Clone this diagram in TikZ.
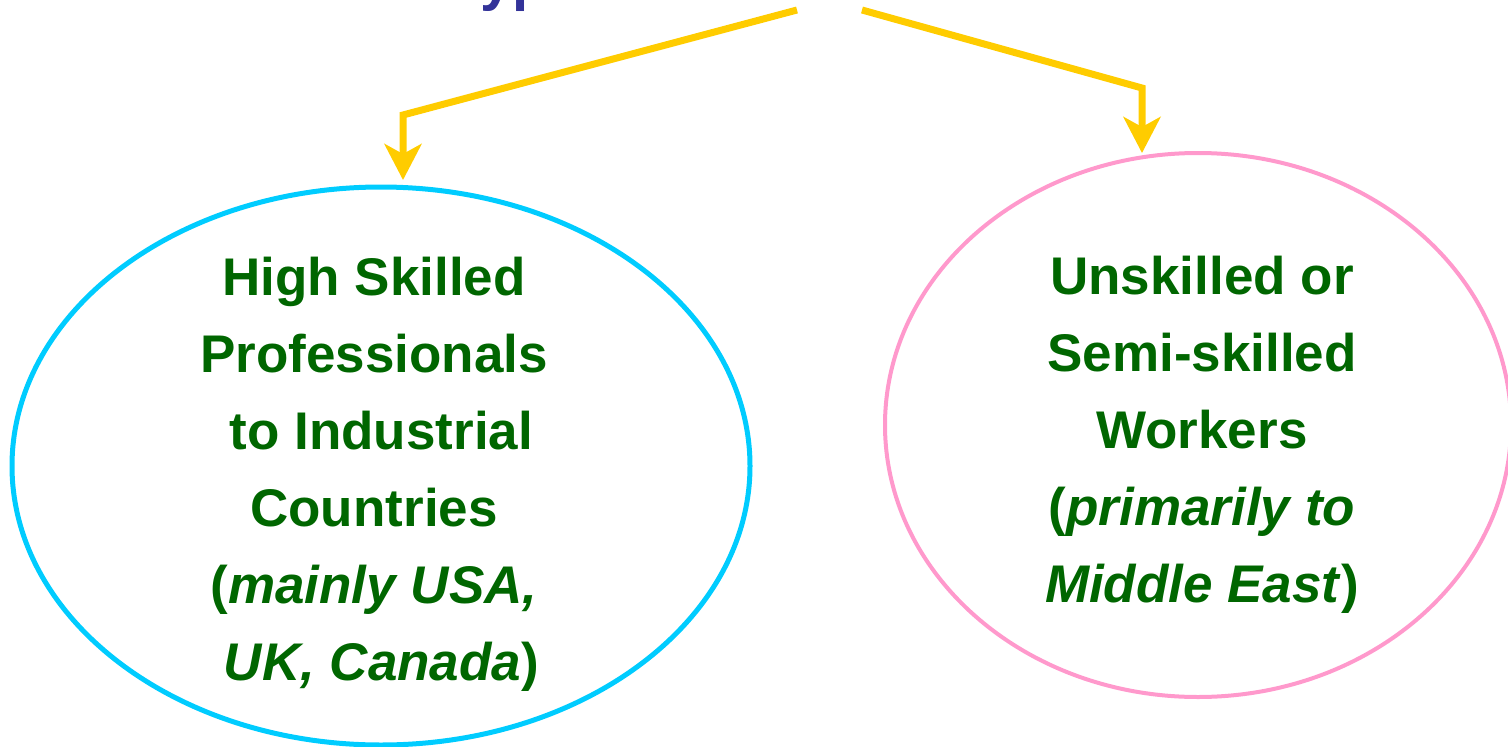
\documentclass[tikz,border=0pt]{standalone}
\usepackage{fontspec}
\setmainfont{Liberation Sans}
\usetikzlibrary{arrows.meta,shapes.geometric}
\definecolor{titleblue}{HTML}{333399}
\definecolor{txtgreen}{HTML}{006600}
\definecolor{arrowgold}{HTML}{FFCC00}
\definecolor{ringcyan}{HTML}{00CCFF}
\definecolor{ringpink}{HTML}{FF99CC}
\tikzset{
  ring/.style={ellipse, inner sep=0pt, outer sep=0pt},
  label text/.style={text=txtgreen, inner sep=0pt,
    font=\fontsize{53}{77}\selectfont\bfseries, align=center},
  flow/.style={draw=arrowgold, line width=7pt,
    -{Stealth[length=36pt, width=37pt, inset=10pt]}},
}
\begin{document}
\begin{tikzpicture}[x=1pt, y=-1pt]
  \useasboundingbox (0,0) rectangle (1508,747);
  % heading, only its descenders fall on the page
  \node[anchor=base west, inner sep=0pt, text=titleblue,
    font=\fontsize{58}{70}\selectfont\bfseries] (title) at (449,-1) {Types};
  % the two migrant groups
  \node[ring, draw=ringcyan, line width=5pt, minimum width=738pt, minimum height=558pt]
    (high) at (381,466) {};
  \node[ring, draw=ringpink, line width=4pt, minimum width=626pt, minimum height=544pt]
    (low) at (1198,425) {};
  \node[label text] (hightext) at (374,474)
    {High Skilled\\Professionals\\\ to Industrial\\Countries\\(\textit{mainly USA,}\\\ \textit{UK, Canada})};
  \node[label text] (lowtext) at (1202,435)
    {Unskilled or\\Semi-skilled\\Workers\\(\textit{primarily to}\\\textit{Middle East})};
  % branches from the heading
  \coordinate (startL) at (797,10);
  \coordinate (bendL) at (403,115);
  \coordinate (startR) at (862,10);
  \coordinate (bendR) at (1142,88);
  \draw[flow, shorten >=7pt] (startL) -- (bendL) -- (bendL |- high.north);
  \draw[flow] (startR) -- (bendR) -- (bendR |- low.north);
\end{tikzpicture}
\end{document}
